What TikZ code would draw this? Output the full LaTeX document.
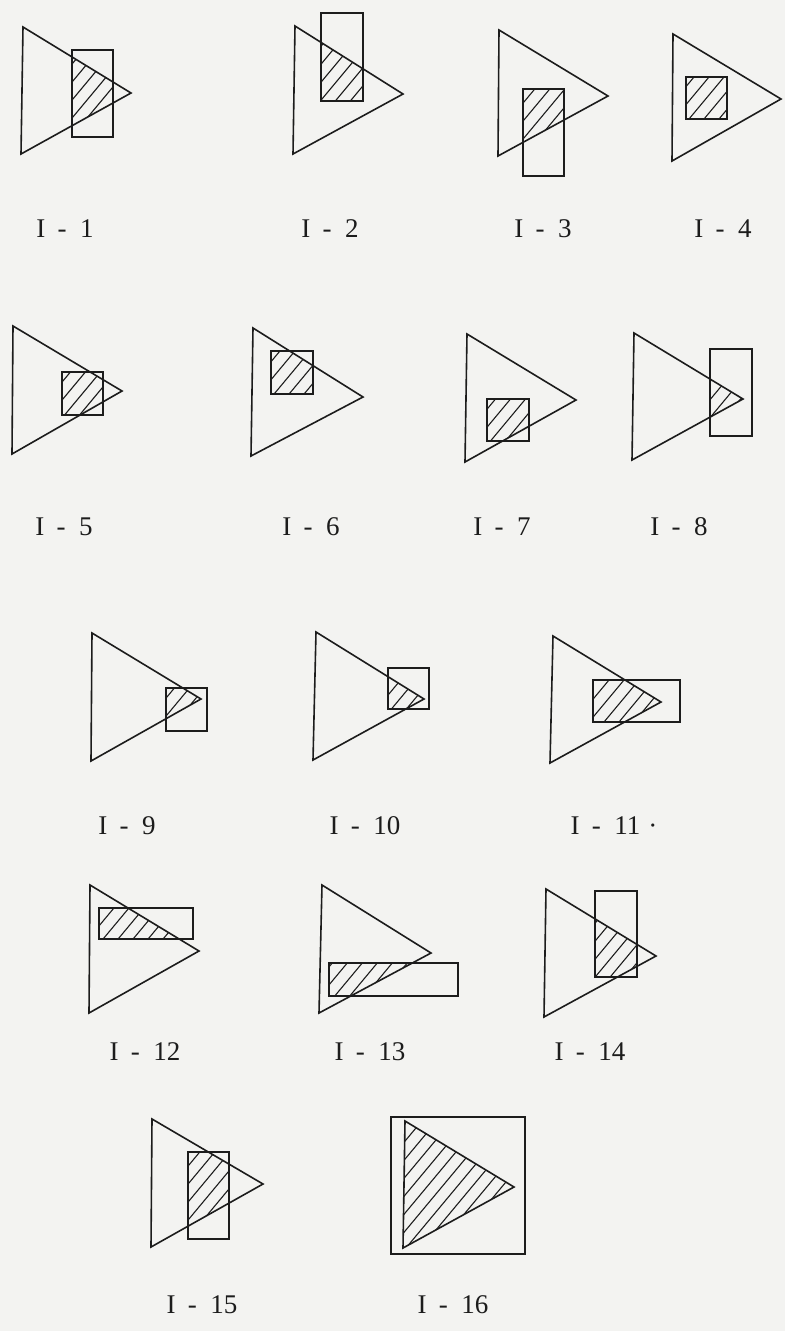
\documentclass[tikz,border=0pt]{standalone}
\usepackage{fontspec}
\setmainfont{Liberation Serif}
\definecolor{bg}{RGB}{243,243,241}
\definecolor{ink}{RGB}{28,28,28}
\tikzset{
  outline/.style={draw=ink, line width=1.6pt, line join=miter},
  hatchline/.style={draw=ink, line width=1.1pt},
  figlabel/.style={font=\fontsize{27}{30}\selectfont, text=ink, inner sep=0pt}
}
\newcommand{\labtxt}[1]{I\hspace{0.45em}-\hspace{0.5em}#1}
% \mkfig: name, triangle (3 pts), rect corners, label position, label number, extra
\newcommand{\mkfig}[9]{%
  \coordinate (#1a) at #2; \coordinate (#1b) at #3; \coordinate (#1c) at #4;
  \coordinate (#1r1) at #5; \coordinate (#1r2) at #6;
  \begin{scope}
    \clip (#1a) -- (#1b) -- (#1c) -- cycle;
    \clip (#1r1) rectangle (#1r2);
    \path (#1r1) -- (#1r2) coordinate[pos=0.5] (#1m);
    \foreach \k in {-18,...,18} {
      \draw[hatchline] ([xshift=\k*15pt-100pt, yshift=-120pt]#1m) -- ([xshift=\k*15pt+100pt, yshift=120pt]#1m);
    }
  \end{scope}
  \draw[outline] (#1a) -- (#1b) -- (#1c) -- cycle;
  \draw[outline] (#1r1) rectangle (#1r2);
  \node[figlabel] (#1lab) at #7 {\labtxt{#8}#9};
}
\begin{document}
\begin{tikzpicture}[x=1pt,y=-1pt]
\fill[bg] (0,0) rectangle (785,1331);
\useasboundingbox (0,0) rectangle (785,1331);
% row 1
\mkfig{fa}{(23,27)}{(21,154)}{(131,93)}{(72,50)}{(113,137)}{(65,229)}{1}{}
\mkfig{fb}{(295,26)}{(293,154)}{(403,94)}{(321,13)}{(363,101)}{(330,229)}{2}{}
\mkfig{fc}{(499,30)}{(498,156)}{(608,96)}{(523,89)}{(564,176)}{(543,229)}{3}{}
\mkfig{fd}{(673,34)}{(672,161)}{(781,99)}{(686,77)}{(727,119)}{(723,229)}{4}{}
% row 2
\mkfig{fe}{(13,326)}{(12,454)}{(122,391)}{(62,372)}{(103,415)}{(64,527)}{5}{}
\mkfig{ff}{(253,328)}{(251,456)}{(363,397)}{(271,351)}{(313,394)}{(311,527)}{6}{}
\mkfig{fg}{(467,334)}{(465,462)}{(576,400)}{(487,399)}{(529,441)}{(502,527)}{7}{}
\mkfig{fh}{(634,333)}{(632,460)}{(743,399)}{(710,349)}{(752,436)}{(679,527)}{8}{}
% row 3
\mkfig{fi}{(92,633)}{(91,761)}{(201,699)}{(166,688)}{(207,731)}{(127,826)}{9}{}
\mkfig{fj}{(316,632)}{(313,760)}{(424,699)}{(388,668)}{(429,709)}{(365,826)}{10}{}
\mkfig{fk}{(553,636)}{(550,763)}{(661,702)}{(593,680)}{(680,722)}{(614,826)}{11}{\hspace{0.3em}·}
% row 4
\mkfig{fl}{(90,885)}{(89,1013)}{(199,951)}{(99,908)}{(193,939)}{(145,1052)}{12}{}
\mkfig{fm}{(322,885)}{(319,1013)}{(431,953)}{(329,963)}{(458,996)}{(370,1052)}{13}{}
\mkfig{fn}{(546,889)}{(544,1017)}{(656,956)}{(595,891)}{(637,977)}{(590,1052)}{14}{}
% row 5
\mkfig{fo}{(152,1119)}{(151,1247)}{(263,1184)}{(188,1152)}{(229,1239)}{(202,1305)}{15}{}
\mkfig{fp}{(405,1121)}{(403,1248)}{(514,1187)}{(391,1117)}{(525,1254)}{(453,1305)}{16}{}
\end{tikzpicture}
\end{document}
